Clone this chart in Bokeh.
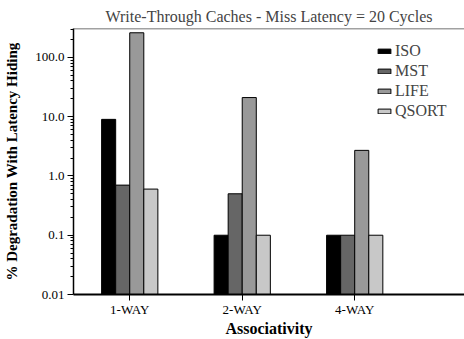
from bokeh.plotting import figure
from bokeh.models import (ColumnDataSource, FixedTicker, Range1d, Span, Legend,
                          LegendItem, CustomJSTickFormatter)
from bokeh.embed import file_html
from bokeh.resources import INLINE

groups = ["1-WAY", "2-WAY", "4-WAY"]
series = ["ISO", "MST", "LIFE", "QSORT"]
iso = [9.0, 0.1, 0.1]
mst = [0.7, 0.5, 0.1]
life = [260.0, 21.0, 2.7]
qsort = [0.6, 0.1, 0.1]
colors = ["#000000", "#666666", "#999999", "#c8c8c8"]
y_ticks = [0.01, 0.1, 1.0, 10.0, 100.0]

FONT = "Liberation Serif"

p = figure(width=464, height=339, output_backend="svg", toolbar_location=None,
           y_axis_type="log", x_range=Range1d(0.5, 3.976), y_range=Range1d(0.01, 307),
           min_border_left=73, min_border_right=0, min_border_top=28, min_border_bottom=44)

p.title.text = "Write-Through Caches - Miss Latency = 20 Cycles"
p.title.align = "center"
p.title.text_font = FONT
p.title.text_font_style = "normal"
p.title.text_font_size = "16px"
p.title.standoff = 7
p.title.offset = -4

xs = list(range(1, len(groups) + 1))
offsets = [-0.1875, -0.0625, 0.0625, 0.1875]
vals = [iso, mst, life, qsort]
renderers = []
for name, v, off, c in zip(series, vals, offsets, colors):
    src = ColumnDataSource(dict(x=[xi + off for xi in xs], top=v, bottom=[y_ticks[0]] * len(v)))
    r = p.vbar(x="x", top="top", bottom="bottom", width=0.125, source=src,
               fill_color=c, line_color="black", line_width=1)
    renderers.append(r)

p.xgrid.visible = False
p.ygrid.visible = False
p.outline_line_color = None

top_line = Span(location=307, dimension="width", line_color="#444444", line_width=1.5)
p.add_layout(top_line)

# x axis
p.xaxis.ticker = FixedTicker(ticks=xs)
p.xaxis.major_label_overrides = {x: g for x, g in zip(xs, groups)}
p.xaxis.axis_label = "Associativity"
p.xaxis.major_tick_in = 0
p.xaxis.major_tick_out = 6
p.xaxis.axis_line_width = 2

# y axis
minor = [m * d for d in y_ticks + [1000.0] for m in range(2, 10)]
p.yaxis.ticker = FixedTicker(ticks=y_ticks, minor_ticks=minor)
p.yaxis.formatter = CustomJSTickFormatter(code="return tick < 0.05 ? tick.toFixed(2) : tick.toFixed(1);")
p.yaxis.axis_label = "% Degradation With Latency Hiding"
p.yaxis.major_tick_in = 0
p.yaxis.major_tick_out = 6
p.yaxis.minor_tick_in = 0
p.yaxis.minor_tick_out = 3
p.yaxis.axis_line_width = 1.5

for ax in (p.xaxis[0], p.yaxis[0]):
    ax.axis_line_color = "black"
    ax.major_tick_line_color = "black"
    ax.major_label_text_font = FONT
    ax.major_label_text_font_size = "13px"
    ax.major_label_text_color = "black"
    ax.axis_label_text_font = FONT
    ax.axis_label_text_font_style = "bold"
    ax.axis_label_text_color = "black"
p.xaxis.minor_tick_line_color = None
p.yaxis.minor_tick_line_color = "black"
p.xaxis.axis_label_text_font_size = "16px"
p.yaxis.axis_label_text_font_size = "15px"
p.xaxis.axis_label_standoff = 0
p.xaxis.major_label_standoff = 1
p.yaxis.major_label_standoff = 3
p.yaxis.axis_label_standoff = 12

legend = Legend(items=[LegendItem(label=s, renderers=[r]) for s, r in zip(series, renderers)],
                location=(303, 174), padding=0, margin=0, spacing=2,
                glyph_width=16, glyph_height=6, label_height=17,
                label_text_font=FONT, label_text_font_size="16px", label_standoff=3,
                border_line_color=None, background_fill_alpha=0)
p.add_layout(legend)

open("out.html", "w").write(file_html(p, INLINE))
